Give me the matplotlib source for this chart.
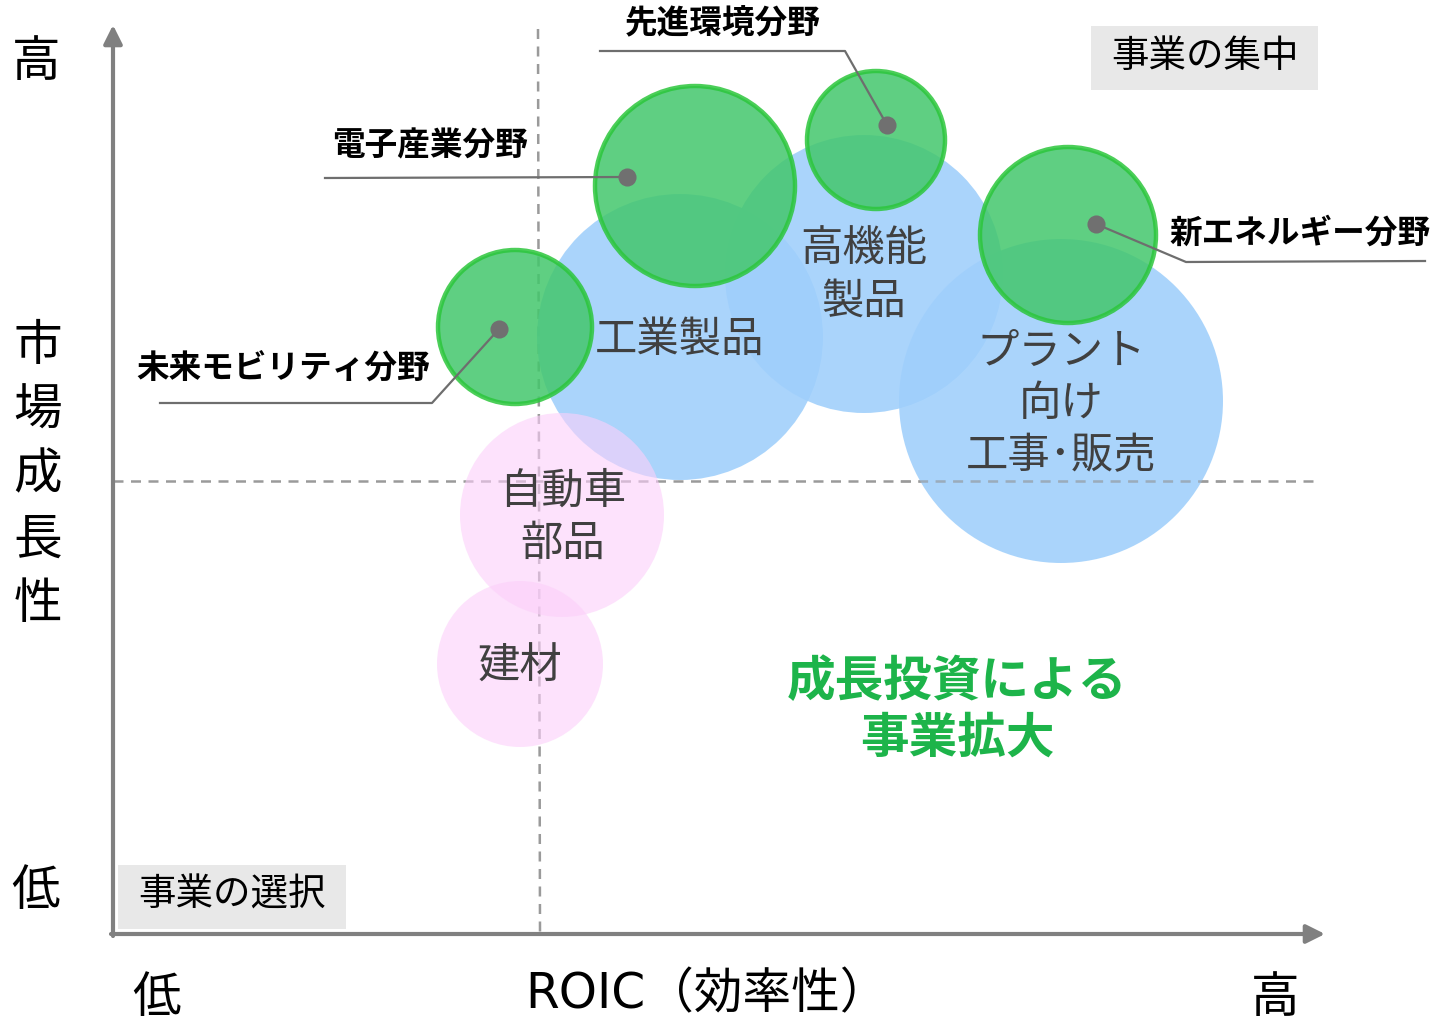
import matplotlib
matplotlib.use("Agg")
import matplotlib.pyplot as plt
from matplotlib.patches import Circle, Rectangle

plt.rcParams['font.family'] = ['Noto Sans CJK JP', 'DejaVu Sans']

# positions in a 0..1431 x 0..1020 canvas (y grows downward)
# existing businesses (blue), select-and-shrink businesses (pink), growth fields (green)
blue_names = ["工業製品", "高機能\n製品", "プラント\n向け\n工事･販売"]
blue_x = [680, 864, 1061]
blue_y = [338, 275, 402]
blue_r = [143, 139, 162]

pink_names = ["自動車\n部品", "建材"]
pink_x = [562, 520]
pink_y = [516, 665]
pink_r = [102, 83]

green_names = ["電子産業分野", "先進環境分野", "新エネルギー分野", "未来モビリティ分野"]
green_x = [695, 876, 1068, 515]
green_y = [187, 141, 236, 328]
green_r = [100, 69, 88, 77]
dot_x = [627, 887, 1096, 499]
dot_y = [178, 126, 225, 330]
# leader lines: dot -> elbow -> end of underline
leader_x = [[627, 325], [887, 845, 600], [1096, 1186, 1425], [499, 432, 160]]
leader_y = [[178, 179], [126, 52, 52], [225, 263, 262], [330, 404, 404]]
label_x = [430, 723, 1300, 283]
label_y = [146, 24, 233, 369]

blue_label_x = [680, 864, 1061]
blue_label_y = [340, 275, 404]
pink_label_x = [563, 520]
pink_label_y = [518, 667]

fig = plt.figure(figsize=(14.31, 10.2), dpi=100)
ax = fig.add_axes([0, 0, 1, 1])
ax.set_xlim(0, 1431)
ax.set_ylim(1020, 0)
ax.set_aspect('equal')
ax.axis('off')

# quadrant dashed lines
ax.plot([538, 540], [30, 935], ls=(0, (4, 3)), color='#9a9a9a', lw=1.8, zorder=1)
ax.plot([113, 1320], [482, 482], ls=(0, (4, 3)), color='#9a9a9a', lw=1.8, zorder=1)

for x, y, r in zip(blue_x, blue_y, blue_r):
    ax.add_patch(Circle((x, y), r, facecolor='#9fcffb', alpha=0.88, lw=0, zorder=2))
ax.plot([900, 1222], [482, 482], ls=(0, (4, 3)), color='#9a9a9a', lw=1.8, alpha=0.6, zorder=2.5)
for x, y, r in zip(pink_x, pink_y, pink_r):
    ax.add_patch(Circle((x, y), r, facecolor='#fccffa', alpha=0.6, lw=0, zorder=3))
for x, y, r in zip(green_x, green_y, green_r):
    ax.add_patch(Circle((x, y), r, facecolor='#43c76c', alpha=0.85,
                        edgecolor='#2cc63c', lw=3.2, zorder=4))

for name, x, y in zip(blue_names, blue_label_x, blue_label_y):
    ax.text(x, y, name, ha='center', va='center', fontsize=30.5, color='#404040',
            linespacing=1.25, zorder=6)
for name, x, y in zip(pink_names, pink_label_x, pink_label_y):
    ax.text(x, y, name, ha='center', va='center', fontsize=30.5, color='#404040',
            linespacing=1.25, zorder=6)

for lx, ly in zip(leader_x, leader_y):
    ax.plot(lx, ly, color='#6e6e6e', lw=1.6, zorder=5)
ax.scatter(dot_x, dot_y, s=170, color='#707070', zorder=6, lw=0)
for name, x, y in zip(green_names, label_x, label_y):
    ax.text(x, y, name, ha='center', va='center', fontsize=23.5, fontweight='bold',
            color='black', zorder=6)

# axes arrows
ax.annotate('', xy=(113, 26), xytext=(113, 937),
            arrowprops=dict(arrowstyle='-|>', color='#808080', lw=3, mutation_scale=28,
                            shrinkA=0, shrinkB=0), zorder=7)
ax.annotate('', xy=(1325, 935), xytext=(111, 935),
            arrowprops=dict(arrowstyle='-|>', color='#808080', lw=3, mutation_scale=28,
                            shrinkA=0, shrinkB=0), zorder=7)

# axis labels
ax.text(36, 62, "高", ha='center', va='center', fontsize=35)
for i, ch in enumerate("市場成長性"):
    ax.text(38, 346 + i * 64.5, ch, ha='center', va='center', fontsize=35)
ax.text(36, 891, "低", ha='center', va='center', fontsize=35)
ax.text(157, 998, "低", ha='center', va='center', fontsize=35)
ax.text(707, 994, "ROIC（効率性）", ha='center', va='center', fontsize=35,
        family=['DejaVu Sans', 'Noto Sans CJK JP'])
ax.text(1275, 998, "高", ha='center', va='center', fontsize=35)

# corner boxes
ax.add_patch(Rectangle((1091, 27), 227, 64, facecolor='#e8e8e8', lw=0, zorder=1))
ax.text(1205, 56, "事業の集中", ha='center', va='center', fontsize=27, zorder=8)
ax.add_patch(Rectangle((118, 866), 228, 64, facecolor='#e8e8e8', lw=0, zorder=1))
ax.text(232, 895, "事業の選択", ha='center', va='center', fontsize=27, zorder=8)

ax.text(957, 710, "成長投資による\n事業拡大", ha='center', va='center', fontsize=35,
        fontweight='bold', color='#1db44a', linespacing=1.2, zorder=8)

fig.savefig("out.png", dpi=100)
